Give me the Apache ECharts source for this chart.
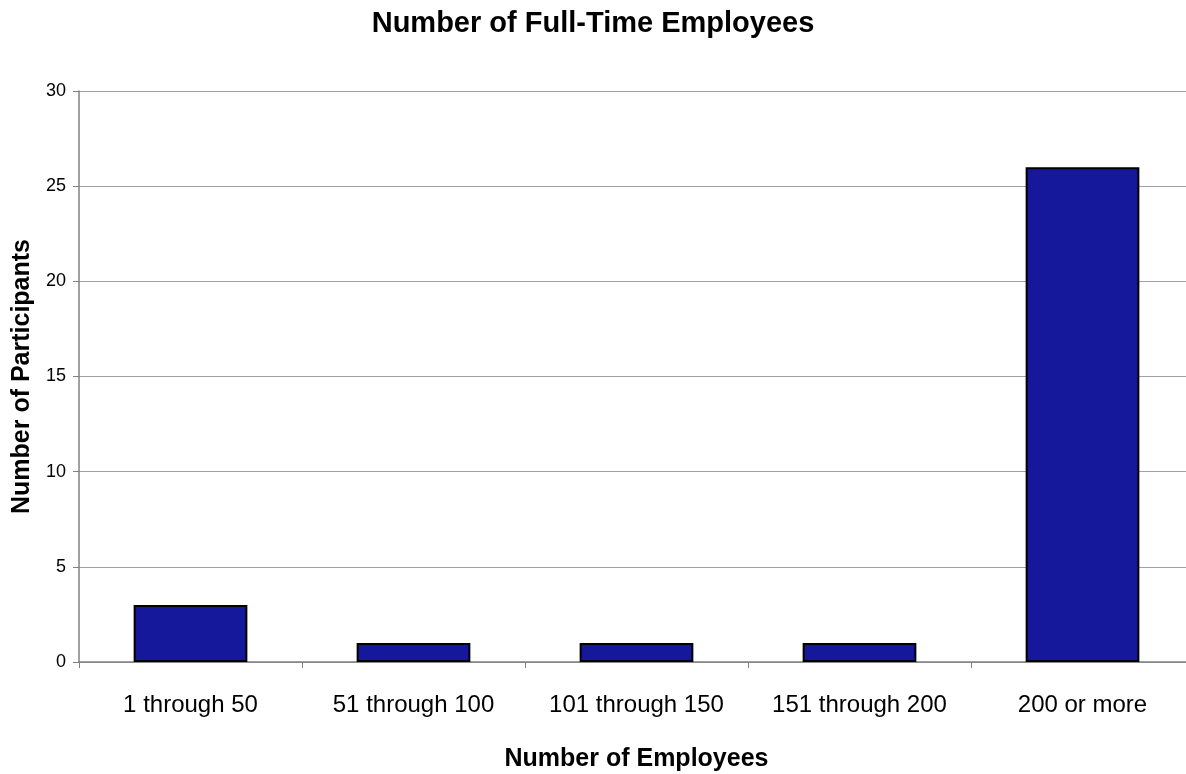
<!DOCTYPE html>
<html>
<head>
<meta charset="utf-8">
<script src="https://cdn.jsdelivr.net/npm/echarts@6/dist/echarts.min.js"></script>
<style>
  html, body { margin: 0; padding: 0; background: #ffffff; }
  #chart { width: 1186px; height: 774px; }
</style>
</head>
<body>
<div id="chart"></div>
<script>
// Employee-count brackets and how many participants fall in each
const categories = ['1 through 50', '51 through 100', '101 through 150', '151 through 200', '200 or more'];
const participants = [3, 1, 1, 1, 26];
const yTicks = [0, 5, 10, 15, 20, 25, 30];

const FONT = '"Liberation Sans", Arial, sans-serif';

const chart = echarts.init(document.getElementById('chart'), null, { renderer: 'canvas' });

chart.setOption({
  animation: false,
  backgroundColor: '#ffffff',
  title: {
    text: 'Number of Full-Time Employees',
    left: 'center',
    top: 4,
    textStyle: { fontFamily: FONT, fontSize: 29, fontWeight: 'bold', color: '#000000' }
  },
  // plot runs slightly past the right edge of the canvas
  grid: { left: 79, top: 91, bottom: 112, right: -8, containLabel: false, outerBoundsMode: 'none' },
  xAxis: {
    type: 'category',
    data: categories,
    name: 'Number of Employees',
    nameLocation: 'middle',
    nameGap: 85,
    nameTextStyle: { fontFamily: FONT, fontSize: 25, fontWeight: 'bold', color: '#000000' },
    axisLine: { show: true, lineStyle: { color: '#808080', width: 1.5 } },
    axisTick: { show: true, alignWithLabel: false, length: 6, lineStyle: { color: '#808080' } },
    axisLabel: { fontFamily: FONT, fontSize: 24, color: '#000000', margin: 31, interval: 0 },
    splitLine: { show: false }
  },
  yAxis: {
    type: 'value',
    min: yTicks[0],
    max: yTicks[yTicks.length - 1],
    interval: 5,
    name: 'Number of Participants',
    nameLocation: 'middle',
    nameGap: 44,
    nameRotate: 90,
    nameTextStyle: { fontFamily: FONT, fontSize: 25, fontWeight: 'bold', color: '#000000' },
    axisLine: { show: true, lineStyle: { color: '#808080', width: 1.5 } },
    axisTick: { show: true, length: 6, lineStyle: { color: '#808080' } },
    axisLabel: { fontFamily: FONT, fontSize: 18, color: '#000000', margin: 13 },
    splitLine: { show: true, lineStyle: { color: '#a0a0a0', width: 1 } }
  },
  series: [{
    type: 'bar',
    data: participants,
    barWidth: '51%',
    itemStyle: { color: '#16189b', borderColor: '#000000', borderWidth: 2 }
  }]
});
</script>
</body>
</html>
